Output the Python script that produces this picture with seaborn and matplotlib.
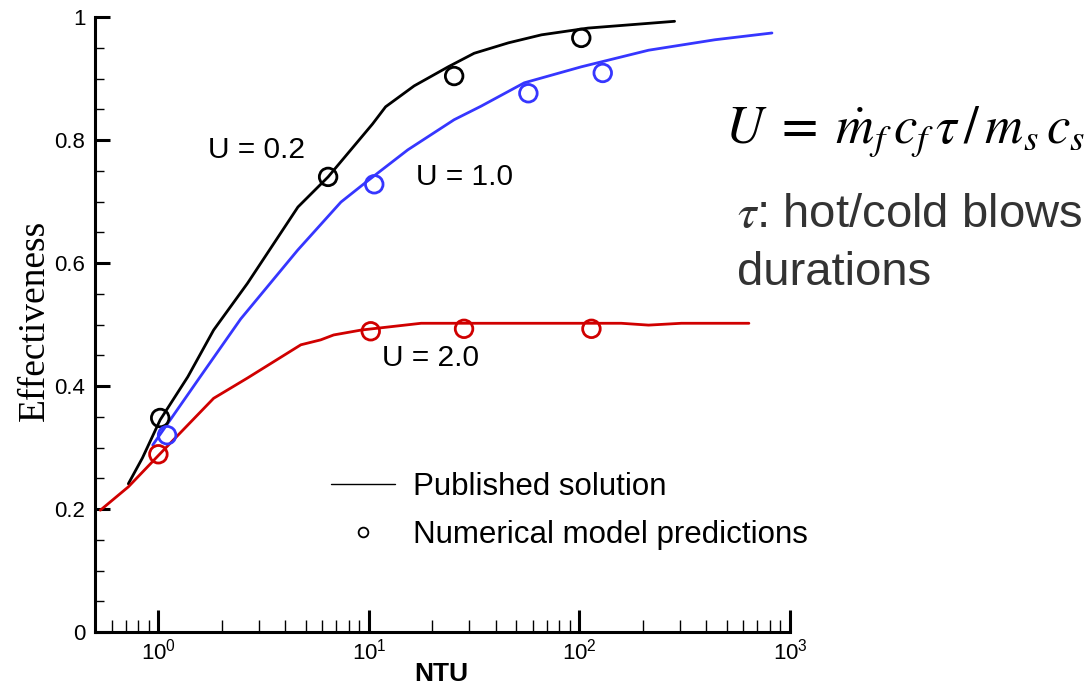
import numpy as np
import pandas as pd
import matplotlib
matplotlib.use("Agg")
import matplotlib.pyplot as plt
from matplotlib.lines import Line2D
from matplotlib.ticker import LogLocator, MultipleLocator
import seaborn as sns

# published solution curves
ntu_u02 = [0.72, 0.84, 1.02, 1.38, 1.83, 2.65, 4.6, 6.4, 10.4, 12.0, 16.4, 23.8, 31.6, 46, 66, 110, 283]
eff_u02 = [0.241, 0.283, 0.345, 0.415, 0.491, 0.567, 0.691, 0.740, 0.826, 0.854, 0.888, 0.919, 0.941, 0.958, 0.971, 0.982, 0.993]

ntu_u10 = [0.94, 1.58, 2.46, 4.59, 7.36, 9.9, 15.3, 25.4, 34.1, 54.7, 102, 213, 440, 821]
eff_u10 = [0.304, 0.415, 0.509, 0.621, 0.699, 0.734, 0.784, 0.833, 0.855, 0.893, 0.919, 0.946, 0.963, 0.974]

ntu_u20 = [0.53, 0.72, 1.0, 1.83, 2.65, 4.75, 5.9, 6.8, 9.2, 17.7, 158, 213, 305, 638]
eff_u20 = [0.198, 0.236, 0.287, 0.38, 0.413, 0.467, 0.475, 0.483, 0.491, 0.502, 0.502, 0.499, 0.502, 0.502]

# numerical model predictions
pts_ntu_u02 = [1.02, 6.4, 25.4, 102]
pts_eff_u02 = [0.348, 0.74, 0.904, 0.966]
pts_ntu_u10 = [1.1, 10.6, 57.2, 129]
pts_eff_u10 = [0.32, 0.728, 0.876, 0.909]
pts_ntu_u20 = [1.0, 10.2, 28.3, 114]
pts_eff_u20 = [0.289, 0.489, 0.493, 0.493]

series_labels = ["U = 0.2", "U = 1.0", "U = 2.0"]
series_colors = ["#000000", "#3636ff", "#d00000"]

sns.set_style("ticks")
plt.rcParams["font.family"] = ["Liberation Sans", "DejaVu Sans"]
plt.rcParams["mathtext.fontset"] = "custom"
plt.rcParams["mathtext.rm"] = "Liberation Sans"
plt.rcParams["mathtext.it"] = "Liberation Sans:italic"
plt.rcParams["mathtext.bf"] = "Liberation Sans:bold"
plt.rcParams["text.color"] = "black"
plt.rcParams["axes.labelcolor"] = "black"
plt.rcParams["xtick.color"] = "black"
plt.rcParams["ytick.color"] = "black"
plt.rcParams["axes.edgecolor"] = "black"

fig = plt.figure(figsize=(10.91, 6.84), dpi=100)
ax = fig.add_axes([95 / 1091, 52 / 684, 695 / 1091, 615 / 684])

curves = [(ntu_u02, eff_u02), (ntu_u10, eff_u10), (ntu_u20, eff_u20)]
points = [(pts_ntu_u02, pts_eff_u02), (pts_ntu_u10, pts_eff_u10), (pts_ntu_u20, pts_eff_u20)]

for (x, y), color in zip(curves, series_colors):
    df = pd.DataFrame({"NTU": x, "eff": y})
    sns.lineplot(data=df, x="NTU", y="eff", ax=ax, color=color, lw=2.0,
                 sort=False, estimator=None, zorder=2)

for (x, y), color in zip(points, series_colors):
    df = pd.DataFrame({"NTU": x, "eff": y})
    sns.scatterplot(data=df, x="NTU", y="eff", ax=ax, marker="o", s=160,
                    facecolor="none", edgecolor=color, linewidth=2.0, zorder=3)

ax.set_xscale("log")
ax.set_xlim(0.5, 1000)
ax.set_ylim(0, 1)

sns.despine(ax=ax)
for side in ["left", "bottom"]:
    ax.spines[side].set_linewidth(2.2)

ax.xaxis.set_major_locator(LogLocator(base=10, numticks=10))
ax.xaxis.set_minor_locator(LogLocator(base=10, subs=np.arange(2, 10), numticks=20))
ax.yaxis.set_major_locator(MultipleLocator(0.2))
ax.yaxis.set_minor_locator(MultipleLocator(0.05))
ax.set_yticks([0, 0.2, 0.4, 0.6, 0.8, 1.0])
ax.set_yticklabels(["0", "0.2", "0.4", "0.6", "0.8", "1"])

ax.tick_params(axis="x", which="major", direction="in", length=16, width=2.2, labelsize=16, pad=5)
ax.tick_params(axis="x", which="minor", direction="in", length=9, width=1.0)
ax.tick_params(axis="y", which="major", direction="in", length=11, width=2.2, labelsize=16, pad=7)
ax.tick_params(axis="y", which="minor", direction="in", length=6.5, width=1.0)

ax.set_xlabel("NTU", fontsize=19, fontweight="bold")
ax.xaxis.set_label_coords(0.498, -0.048)
ax.set_ylabel("Effectiveness", fontsize=27, family=["Liberation Serif", "DejaVu Serif"])
ax.yaxis.set_label_coords(-0.062, 0.506)

# curve labels
label_pos = [(1.73, 0.784), (16.7, 0.74), (11.5, 0.446)]
for text, (lx, ly) in zip(series_labels, label_pos):
    ax.text(lx, ly, text, fontsize=21.5, va="center", ha="left", color="black")

# legend
handles = [Line2D([], [], color="black", lw=1.0),
           Line2D([], [], color="black", lw=0, marker="o", markersize=7,
                  markerfacecolor="none", markeredgewidth=1.3)]
ax.legend(handles, ["Published solution", "Numerical model predictions"],
          loc="upper left", bbox_to_anchor=(315 / 1091, 1 - 456 / 684),
          bbox_transform=fig.transFigure, frameon=False, fontsize=22.5,
          handlelength=2.05, handletextpad=0.6, borderpad=0, labelspacing=0.58)

# definition text on the right
fig.text(725 / 1091, 1 - 143 / 684,
         r"$U\;=\;\dot{m}_f\,c_f\,\tau\,/\,m_s\,c_s$",
         fontsize=38, math_fontfamily="stix", va="baseline", ha="left")
fig.text(737 / 1091, 1 - 227 / 684, r"$\tau$: hot/cold blows", fontsize=34,
         color="#333333", math_fontfamily="stix", va="baseline", ha="left")
fig.text(737 / 1091, 1 - 285 / 684, "durations", fontsize=34,
         color="#333333", va="baseline", ha="left")

fig.savefig("out.png", dpi=100)
